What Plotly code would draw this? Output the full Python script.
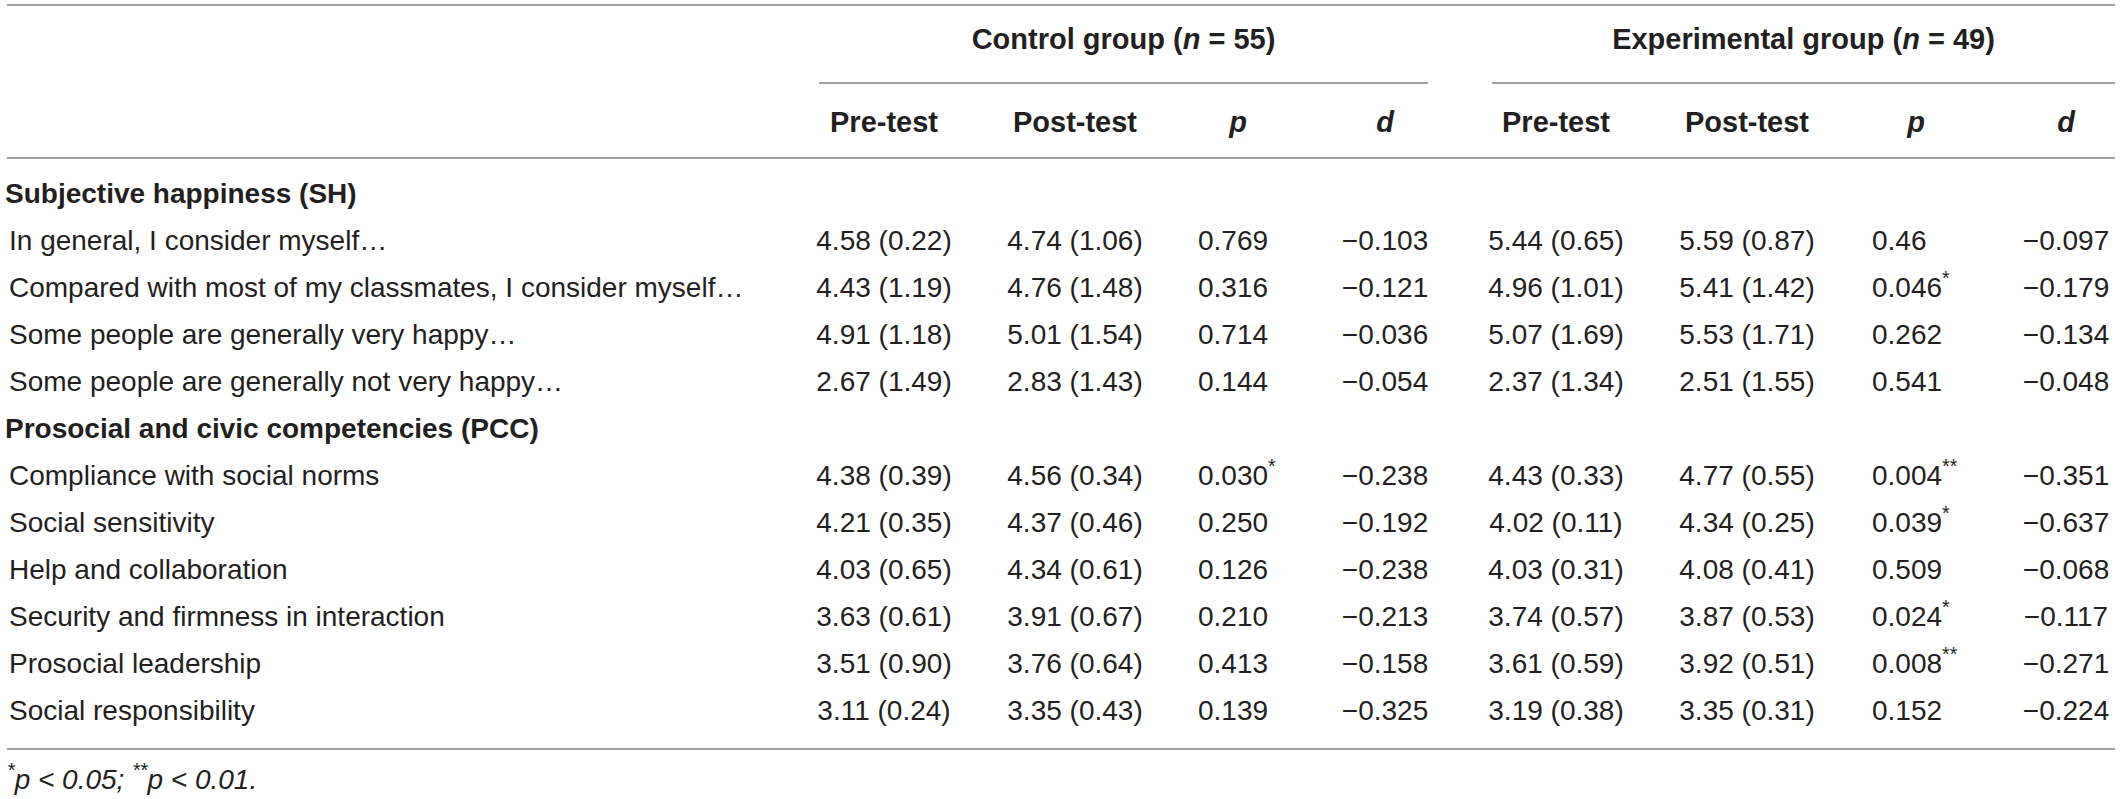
import plotly.graph_objects as go

# table content
group_titles = ["Control group (<i>n</i> = 55)", "Experimental group (<i>n</i> = 49)"]
col_headers = ["Pre-test", "Post-test", "<i>p</i>", "<i>d</i>"]
sections = ["Subjective happiness (SH)", "Prosocial and civic competencies (PCC)"]
sh_items = [
    "In general, I consider myself…",
    "Compared with most of my classmates, I consider myself…",
    "Some people are generally very happy…",
    "Some people are generally not very happy…",
]
pcc_items = [
    "Compliance with social norms",
    "Social sensitivity",
    "Help and collaboration",
    "Security and firmness in interaction",
    "Prosocial leadership",
    "Social responsibility",
]

ctrl_pre_mean = [4.58, 4.43, 4.91, 2.67, 4.38, 4.21, 4.03, 3.63, 3.51, 3.11]
ctrl_pre_sd = [0.22, 1.19, 1.18, 1.49, 0.39, 0.35, 0.65, 0.61, 0.90, 0.24]
ctrl_post_mean = [4.74, 4.76, 5.01, 2.83, 4.56, 4.37, 4.34, 3.91, 3.76, 3.35]
ctrl_post_sd = [1.06, 1.48, 1.54, 1.43, 0.34, 0.46, 0.61, 0.67, 0.64, 0.43]
ctrl_p = ["0.769", "0.316", "0.714", "0.144", "0.030*", "0.250", "0.126", "0.210", "0.413", "0.139"]
ctrl_d = [-0.103, -0.121, -0.036, -0.054, -0.238, -0.192, -0.238, -0.213, -0.158, -0.325]

exp_pre_mean = [5.44, 4.96, 5.07, 2.37, 4.43, 4.02, 4.03, 3.74, 3.61, 3.19]
exp_pre_sd = [0.65, 1.01, 1.69, 1.34, 0.33, 0.11, 0.31, 0.57, 0.59, 0.38]
exp_post_mean = [5.59, 5.41, 5.53, 2.51, 4.77, 4.34, 4.08, 3.87, 3.92, 3.35]
exp_post_sd = [0.87, 1.42, 1.71, 1.55, 0.55, 0.25, 0.41, 0.53, 0.51, 0.31]
exp_p = ["0.46", "0.046*", "0.262", "0.541", "0.004**", "0.039*", "0.509", "0.024*", "0.008**", "0.152"]
exp_d = [-0.097, -0.179, -0.134, -0.048, -0.351, -0.637, -0.068, -0.117, -0.271, -0.224]

footnote = "<i><sup>*</sup>p < 0.05; <sup>**</sup>p < 0.01.</i>"

# layout (pixel space)
W, H = 2121, 799
FONT = "Liberation Sans, Arial, Helvetica, sans-serif"
INK = "#231f20"
RULE = "#808080"
FS = 28
FS_B = 29
LEFT, RIGHT = 7, 2115
ROW0, PITCH = 196, 47

ctrl_x = [884, 1075, 1198, 1385]
exp_x = [1556, 1747, 1872, 2066]
p_head_x = [1238, 1916]


def msd(m, s):
    return [f"{a:.2f} ({b:.2f})" for a, b in zip(m, s)]


def pfmt(vals):
    out = []
    for v in vals:
        stars = v.count("*")
        out.append(v.replace("*", "") + ("<sup>" + "*" * stars + "</sup>" if stars else ""))
    return out


def dfmt(vals):
    return [f"{v:.3f}".replace("-", "\u2212") for v in vals]


# row index of every line of the body
label_rows, label_text, label_bold = [], [], []
item_rows = []
r = 0
for title, items in zip(sections, [sh_items, pcc_items]):
    label_rows.append(r)
    label_text.append("<b>" + title + "</b>")
    label_bold.append(True)
    r += 1
    for it in items:
        label_rows.append(r)
        label_text.append(it)
        label_bold.append(False)
        item_rows.append(r)
        r += 1

row_y = lambda rows: [ROW0 + PITCH * k for k in rows]

fig = go.Figure()


def add_text(x, y, text, pos, size=FS):
    fig.add_trace(go.Scatter(
        x=x, y=y, text=text, mode="text", textposition=pos,
        textfont=dict(family=FONT, size=size, color=INK),
        hoverinfo="skip", showlegend=False,
    ))


# row labels
add_text([5 if b else 9 for b in label_bold], row_y(label_rows), label_text, "middle right")

# body columns
iy = row_y(item_rows)
columns = [
    (ctrl_x[0], msd(ctrl_pre_mean, ctrl_pre_sd), "middle center"),
    (ctrl_x[1], msd(ctrl_post_mean, ctrl_post_sd), "middle center"),
    (ctrl_x[2], pfmt(ctrl_p), "middle right"),
    (ctrl_x[3], dfmt(ctrl_d), "middle center"),
    (exp_x[0], msd(exp_pre_mean, exp_pre_sd), "middle center"),
    (exp_x[1], msd(exp_post_mean, exp_post_sd), "middle center"),
    (exp_x[2], pfmt(exp_p), "middle right"),
    (exp_x[3], dfmt(exp_d), "middle center"),
]
for cx, vals, pos in columns:
    add_text([cx] * len(vals), iy, vals, pos)

# headers
hx = [ctrl_x[0], ctrl_x[1], p_head_x[0], ctrl_x[3], exp_x[0], exp_x[1], p_head_x[1], exp_x[3]]
add_text(hx, [125] * 8, ["<b>" + h + "</b>" for h in col_headers * 2], "middle center", FS_B)
group_spans = [(819, 1428), (1492, RIGHT)]
add_text([(a + b) / 2 for a, b in group_spans], [42, 42],
         ["<b>" + g + "</b>" for g in group_titles], "middle center", FS_B)

# footnote
add_text([LEFT], [782], [footnote], "middle right")

# rules
for y in [5, 158, 749]:
    fig.add_shape(type="line", x0=LEFT, x1=RIGHT, y0=y, y1=y,
                  line=dict(color=RULE, width=1.5))
for a, b in group_spans:
    fig.add_shape(type="line", x0=a, x1=b, y0=83, y1=83,
                  line=dict(color=RULE, width=1.5))

fig.update_layout(
    width=W, height=H,
    margin=dict(l=0, r=0, t=0, b=0),
    paper_bgcolor="white", plot_bgcolor="white",
    xaxis=dict(range=[0, W], visible=False, fixedrange=True),
    yaxis=dict(range=[H, 0], visible=False, fixedrange=True),
)

fig.write_html("out.html", config={"displayModeBar": False},
               post_script="document.body.style.margin='0';document.body.style.overflow='hidden';")
